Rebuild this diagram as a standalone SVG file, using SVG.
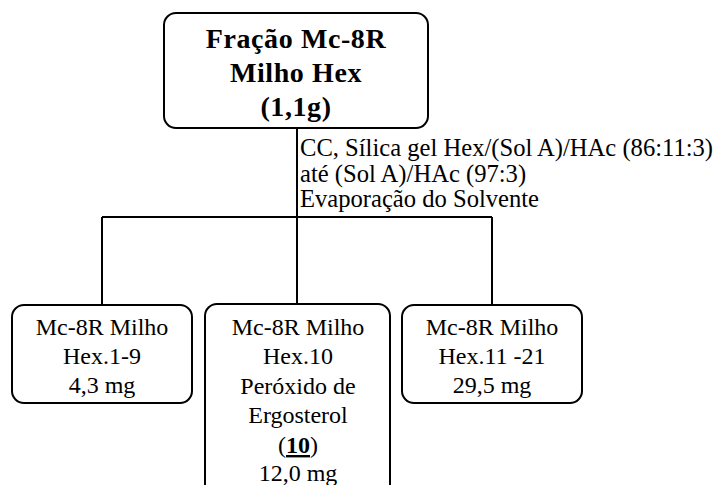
<svg xmlns="http://www.w3.org/2000/svg" width="722" height="485" viewBox="0 0 722 485">
  <style>
    .box { fill: #ffffff; stroke: #000000; stroke-width: 2; }
    .wire { fill: none; stroke: #000000; stroke-width: 2; }
    .title { font-size: 28px; font-weight: bold; text-anchor: middle; letter-spacing: 0.6px; }
    .label { font-size: 24px; text-anchor: middle; }
    .note { font-size: 24.6px; }
  </style>
  <rect width="722" height="485" fill="#ffffff"/>

  <g font-family="Liberation Serif, Tinos, DejaVu Serif, serif" fill="#000000">
    <!-- connectors -->
    <g id="connectors">
      <line class="wire" x1="297" y1="128" x2="297" y2="304"/>
      <line class="wire" x1="102" y1="217" x2="492" y2="217"/>
      <line class="wire" x1="102" y1="217" x2="102" y2="305"/>
      <line class="wire" x1="492" y1="217" x2="492" y2="305"/>
      <text class="note" x="300" y="156">CC, Sílica gel Hex/(Sol A)/HAc (86:11:3)</text>
      <text class="note" x="300" y="182">até (Sol A)/HAc (97:3)</text>
      <text class="note" x="300" y="207">Evaporação do Solvente</text>
    </g>

    <!-- starting fraction -->
    <g id="node-start">
      <rect class="box" x="164" y="13" width="264" height="115" rx="12"/>
      <text class="title" x="296" y="48">Fração Mc-8R</text>
      <text class="title" x="296" y="82">Milho Hex</text>
      <text class="title" x="296" y="116">(1,1g)</text>
    </g>

    <!-- fractions 1-9 -->
    <g id="node-hex-1-9">
      <rect class="box" x="12" y="305" width="180" height="98" rx="12"/>
      <text class="label" x="102" y="335">Mc-8R Milho</text>
      <text class="label" x="102" y="364">Hex.1-9</text>
      <text class="label" x="102" y="393">4,3 mg</text>
    </g>

    <!-- fraction 10 -->
    <g id="node-hex-10">
      <rect class="box" x="205" y="304" width="185" height="195" rx="12"/>
      <text class="label" x="298" y="335">Mc-8R Milho</text>
      <text class="label" x="298" y="364">Hex.10</text>
      <text class="label" x="298" y="394">Peróxido de</text>
      <text class="label" x="298" y="423">Ergosterol</text>
      <text class="label" x="298" y="453">(<tspan font-weight="bold" text-decoration="underline">10</tspan>)</text>
      <text class="label" x="298" y="481">12,0 mg</text>
    </g>

    <!-- fractions 11-21 -->
    <g id="node-hex-11-21">
      <rect class="box" x="402" y="305" width="180" height="98" rx="12"/>
      <text class="label" x="492" y="335">Mc-8R Milho</text>
      <text class="label" x="492" y="364">Hex.11 -21</text>
      <text class="label" x="492" y="393">29,5 mg</text>
    </g>
  </g>
</svg>
